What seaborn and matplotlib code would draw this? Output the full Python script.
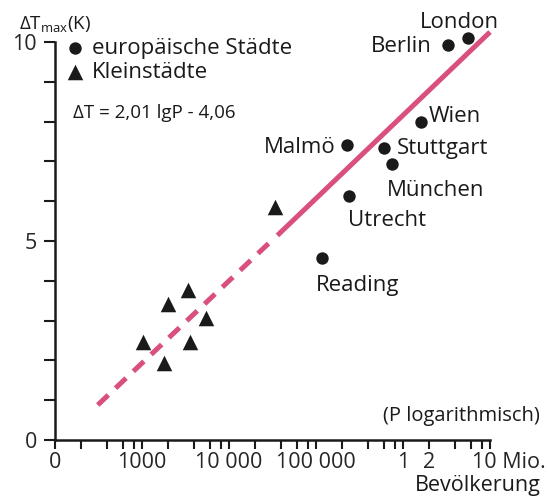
import matplotlib

matplotlib.use("Agg")

import matplotlib.pyplot as plt
import matplotlib.transforms as mtransforms
from matplotlib.ticker import FixedLocator
import seaborn as sns

# europäische Städte: Einwohner und maximale Wärmeinsel-Intensität (K)
staedte = ["London", "Berlin", "Wien", "Stuttgart", "Malmö", "München", "Utrecht", "Reading"]
staedte_pop = [5_600_000, 3_300_000, 1_620_000, 600_000, 230_000, 740_000, 240_000, 117_000]
staedte_dt = [10.10, 9.92, 7.99, 7.34, 7.41, 6.93, 6.13, 4.57]

# Kleinstädte
klein_pop = [34_000, 3_400, 2_000, 5_500, 1_020, 3_600, 1_800]
klein_dt = [5.85, 3.77, 3.42, 3.07, 2.46, 2.46, 1.93]

# Regressionsgerade (gestrichelt = extrapoliert)
fit_dash_pop = [310, 33_000]
fit_dash_dt = [0.88, 5.07]
fit_solid_pop = [36_000, 10_000_000]
fit_solid_dt = [5.14, 10.25]

x_ticks = [100, 1_000, 10_000, 100_000, 1_000_000, 2_000_000, 10_000_000]
x_ticklabels = ["0", "1000", "10 000", "100 000", "1", "2", "10 Mio."]
x_minor = [m * 10 ** e for e in range(2, 7) for m in (2, 4, 6, 8) if m * 10 ** e != 2_000_000]
y_ticks = [0, 5, 10]
y_minor = [1, 2, 3, 4, 6, 7, 8, 9]

# label placement: (dx, dy) pixel offset from the dot, horizontal alignment
label_pos = {
    "London": (-9, 16, "center"),
    "Berlin": (-16, -1, "right"),
    "Wien": (7, 5, "left"),
    "Stuttgart": (13, -1, "left"),
    "Malmö": (-12, -2, "right"),
    "München": (-5, -26, "left"),
    "Utrecht": (-1, -24, "left"),
    "Reading": (-6, -27, "left"),
}

PINK = "#d94f7f"
INK = "#1a1a1a"
W, H = 548, 497
FS = 16

sns.set_style("white")
plt.rcParams["font.family"] = ["Open Sans", "DejaVu Sans"]
plt.rcParams["text.color"] = INK

fig = plt.figure(figsize=(W / 100, H / 100), dpi=100)
ax = fig.add_axes([55 / W, (H - 440) / H, 435 / W, 398 / H])


def px(x, y):
    return x / W, 1 - y / H


sns.lineplot(x=fit_dash_pop, y=fit_dash_dt, ax=ax, color=PINK, lw=3.6,
             linestyle=(0, (2.9, 2.0)), solid_capstyle="butt", clip_on=False)
sns.lineplot(x=fit_solid_pop, y=fit_solid_dt, ax=ax, color=PINK, lw=3.6,
             solid_capstyle="butt", clip_on=False)

sns.scatterplot(x=staedte_pop, y=staedte_dt, ax=ax, marker="o", s=80, color=INK,
                linewidth=0, clip_on=False, label="europäische Städte", zorder=3)
sns.scatterplot(x=klein_pop, y=klein_dt, ax=ax, marker="^", s=125, color=INK,
                linewidth=0, clip_on=False, label="Kleinstädte", zorder=3)

ax.set_xscale("log")
ax.set_xlim(100, 10_000_000)
ax.set_ylim(0, 10)

for name, p, v in zip(staedte, staedte_pop, staedte_dt):
    dx, dy, ha = label_pos[name]
    ax.annotate(name, (p, v), xytext=(dx, dy), textcoords="offset pixels",
                ha=ha, va="center", fontsize=FS, annotation_clip=False)

sns.despine(ax=ax)
for side in ("left", "bottom"):
    ax.spines[side].set_linewidth(1.8)
    ax.spines[side].set_color(INK)

ax.xaxis.set_major_locator(FixedLocator(x_ticks))
ax.xaxis.set_minor_locator(FixedLocator(x_minor))
ax.set_xticklabels(x_ticklabels)
ax.yaxis.set_major_locator(FixedLocator(y_ticks))
ax.yaxis.set_minor_locator(FixedLocator(y_minor))
ax.set_yticklabels([str(t) for t in y_ticks])

ax.tick_params(axis="x", which="both", direction="out", length=6.3, width=1.5,
               color=INK, bottom=True, labelsize=15.5, pad=2)
ax.tick_params(axis="y", which="both", direction="out", length=8, width=1.5,
               color=INK, left=True, labelsize=15.5, pad=5)

# "10 Mio." steht links am Teilstrich
last = ax.get_xticklabels()[-1]
last.set_ha("left")
last.set_transform(last.get_transform() + mtransforms.Affine2D().translate(-18, 0))

ax.set_xlabel("")
ax.set_ylabel("")

leg = ax.legend(loc="upper left", bbox_to_anchor=px(66, 38), bbox_transform=fig.transFigure,
                frameon=False, fontsize=FS, handlelength=0.8, handletextpad=0.35,
                labelspacing=0.15, borderpad=0, borderaxespad=0)

fig.text(*px(19, 25), "ΔT$_{\\mathregular{max}}$(K)", fontsize=13.5, va="center", ha="left")
fig.text(*px(73, 113), "ΔT = 2,01 lgP - 4,06", fontsize=13.5, va="center", ha="left")
fig.text(*px(383, 416), "(P logarithmisch)", fontsize=14.5, va="center", ha="left")
fig.text(*px(541, 486), "Bevölkerung", fontsize=15.5, va="center", ha="right")

fig.savefig("out.png", dpi=100)
